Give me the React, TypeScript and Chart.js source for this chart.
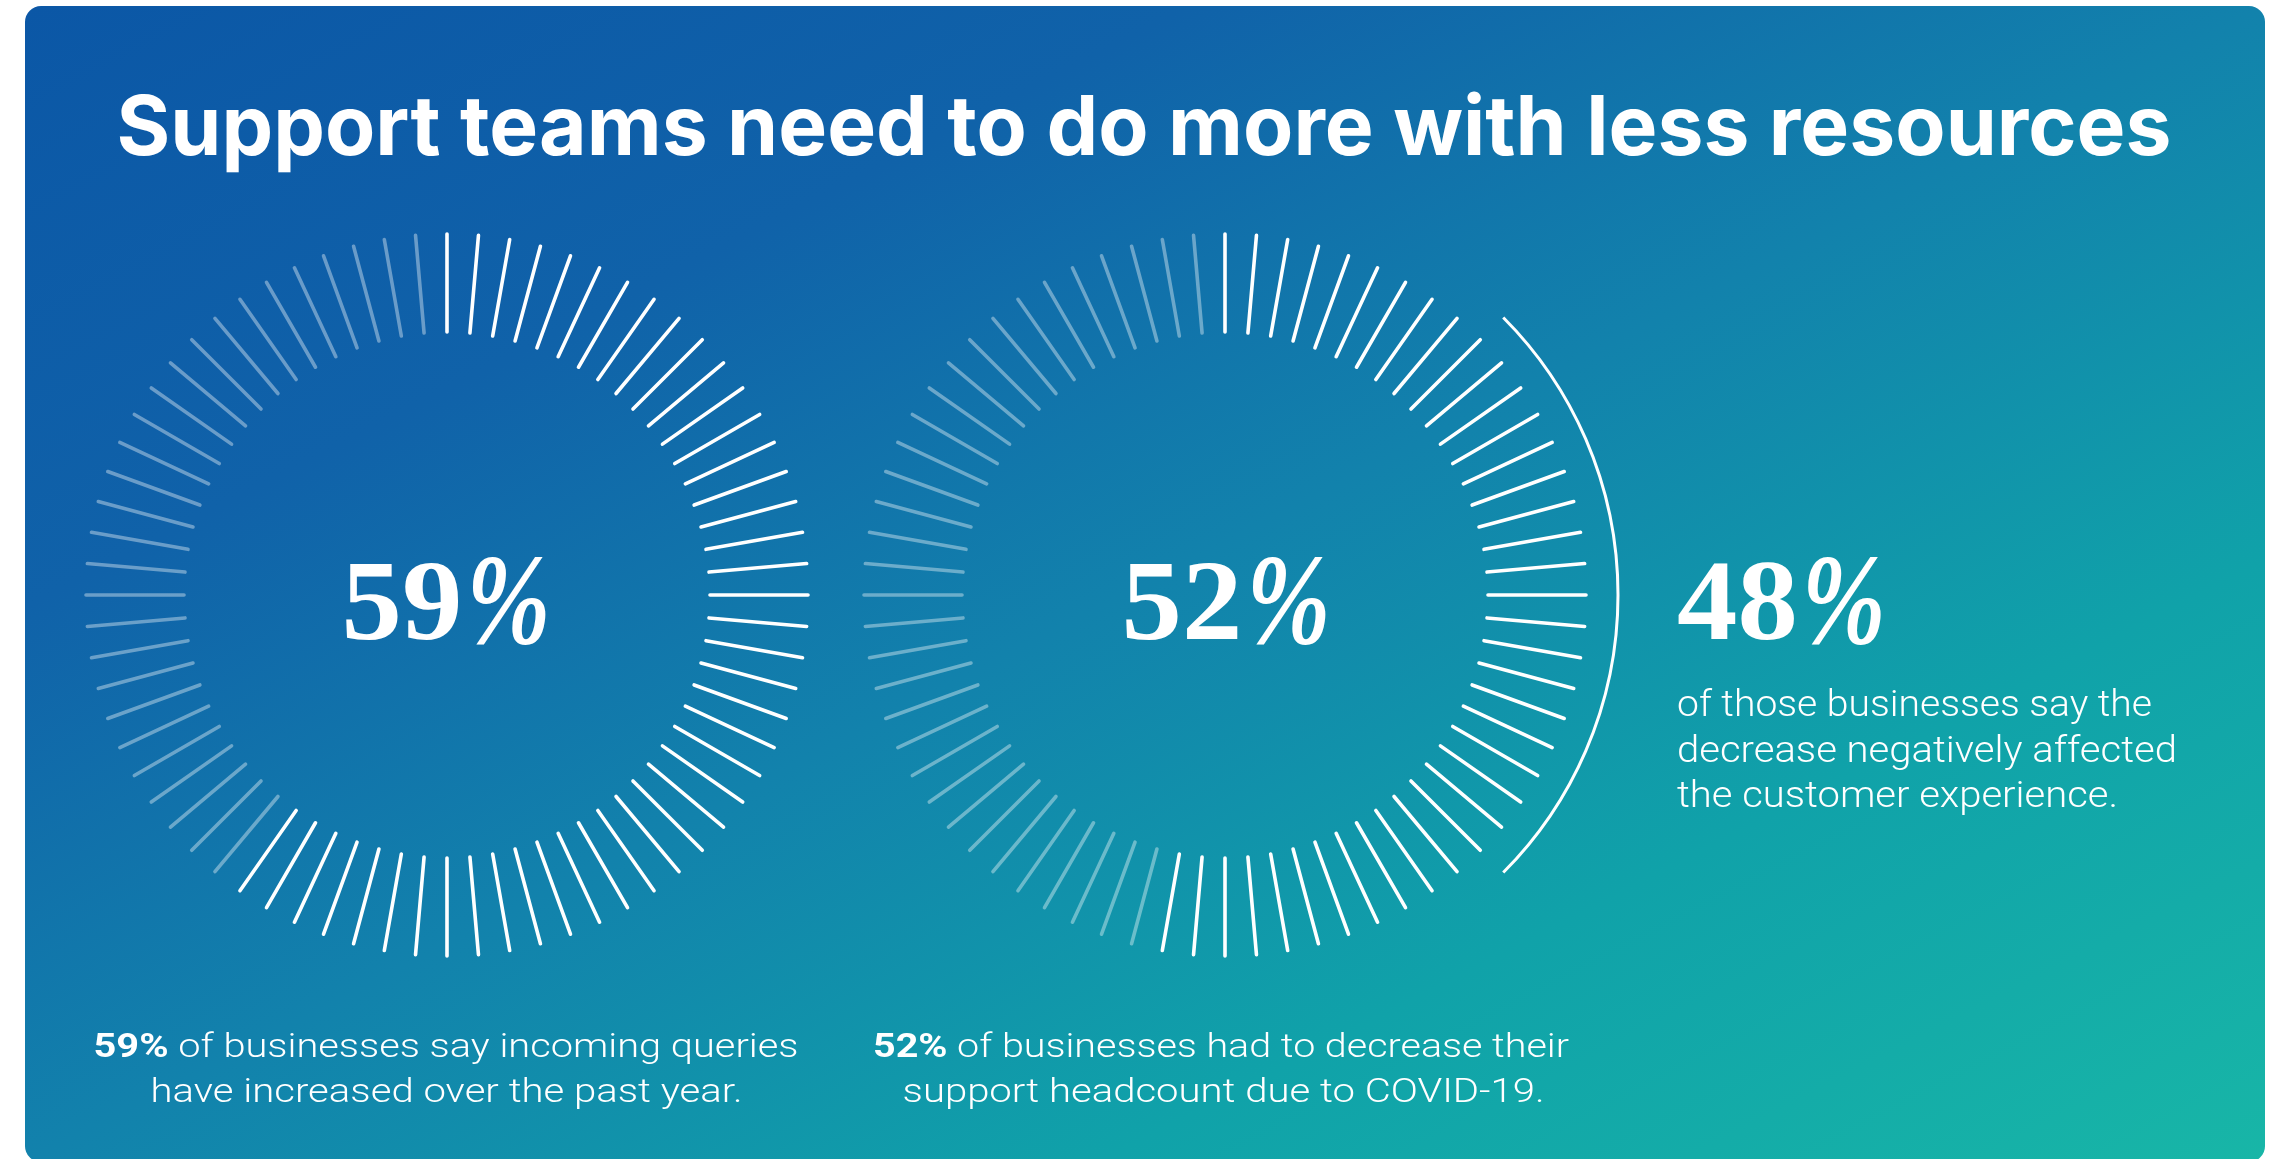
import React, { useEffect, useRef } from "react";
import { Chart, registerables } from "chart.js";

Chart.register(...registerables);

// ---------- data ----------
const TITLE = "Support teams need to do more with less resources";
const STAT_VALUES = [59, 52];
const STAT_LIT_TICKS = [44, 39]; // lit ticks
const TICK_TOTAL = 72;
const FOLLOW_UP_VALUE = 48; // % of the 52% group
const CAPTION_BOLD = ["59%", "52%"];
const CAPTION_LINE1 = [" of businesses say incoming queries", " of businesses had to decrease their"];
const CAPTION_LINE2 = ["have increased over the past year.", "support headcount due to COVID-19."];
const FOLLOW_UP_LINES = ["of those businesses say the", "decrease negatively affected", "the customer experience."];

// ---------- layout ----------
const W = 2282;
const H = 1159;
const CARD = { x: 25, y: 6, w: 2240, h: 1156, r: 16 };
const CENTERS_X = [447, 1225];
const CENTER_Y = 595;
const R_IN = 263;
const R_OUT = 361;
const ARC_R = 393;

function tickDatasets() {
  const ds: any[] = [];
  CENTERS_X.forEach((cx, c) => {
    for (let i = 0; i < TICK_TOTAL; i++) {
      const a = (i * 2 * Math.PI) / TICK_TOTAL;
      const lit = i < STAT_LIT_TICKS[c];
      ds.push({
        data: [
          { x: cx + R_IN * Math.sin(a), y: CENTER_Y - R_IN * Math.cos(a) },
          { x: cx + R_OUT * Math.sin(a), y: CENTER_Y - R_OUT * Math.cos(a) },
        ],
        showLine: true,
        borderColor: lit ? "#ffffff" : "rgba(255,255,255,0.38)",
        borderWidth: 3.6,
        borderCapStyle: "round",
        pointRadius: 0,
        pointHoverRadius: 0,
        fill: false,
        tension: 0,
      });
    }
  });
  return ds;
}

function fitText(ctx: CanvasRenderingContext2D, text: string, x: number, y: number, font: string, targetW: number, align: CanvasTextAlign) {
  ctx.font = font;
  const w = ctx.measureText(text).width;
  const sx = targetW / w;
  ctx.save();
  ctx.translate(x, y);
  ctx.scale(sx, 1);
  ctx.textAlign = align;
  ctx.textBaseline = "alphabetic";
  ctx.fillText(text, 0, 0);
  ctx.restore();
}

function mixedLine(ctx: CanvasRenderingContext2D, bold: string, rest: string, cx: number, y: number, size: number, targetW: number) {
  const bf = `700 ${size}px Roboto`;
  const lf = `300 ${size}px Roboto`;
  ctx.font = bf;
  const bw = ctx.measureText(bold).width;
  ctx.font = lf;
  const lw = ctx.measureText(rest).width;
  const sx = targetW / (bw + lw);
  ctx.save();
  ctx.translate(cx - targetW / 2, y);
  ctx.scale(sx, 1);
  ctx.textAlign = "left";
  ctx.textBaseline = "alphabetic";
  ctx.font = bf;
  ctx.fillText(bold, 0, 0);
  ctx.font = lf;
  ctx.fillText(rest, bw, 0);
  ctx.restore();
}

// big serif figure: bold digits + slim italic percent sign
function statFigure(ctx: CanvasRenderingContext2D, value: number, x: number, align: "center" | "left") {
  const digits = String(value);
  const df = "700 114px 'Liberation Serif'";
  const pf = "italic 700 130px 'Liberation Serif'";
  ctx.font = df;
  const dwRaw = ctx.measureText(digits).width;
  const dsx = 1.06;
  const dw = dwRaw * dsx;
  ctx.font = pf;
  const pw = ctx.measureText("%").width;
  const pctW = 84;
  const gap = 4;
  const total = dw + gap + pctW;
  const start = align === "center" ? x - total / 2 : x;
  ctx.textAlign = "left";
  ctx.textBaseline = "alphabetic";
  ctx.save();
  ctx.translate(start, 639);
  ctx.scale(dsx, 1);
  ctx.font = df;
  ctx.fillText(digits, 0, 0);
  ctx.restore();
  ctx.save();
  ctx.translate(start + dw + gap, 643);
  ctx.scale(pctW / pw, 1);
  ctx.font = pf;
  ctx.fillText("%", 0, 0);
  ctx.restore();
}

const backgroundPlugin = {
  id: "cardBackground",
  beforeDraw(chart: any) {
    const ctx: CanvasRenderingContext2D = chart.ctx;
    ctx.save();
    ctx.fillStyle = "#ffffff";
    ctx.fillRect(0, 0, W, H);
    const { x, y, w, h, r } = CARD;
    const cx = x + w / 2;
    const cy = y + h / 2;
    const len = Math.hypot(w, h);
    const dx = h / len;
    const dy = w / len;
    const half = (w * h) / len;
    const g = ctx.createLinearGradient(cx - dx * half, cy - dy * half, cx + dx * half, cy + dy * half);
    g.addColorStop(0, "#0b57a6");
    g.addColorStop(0.26, "#1062a9");
    g.addColorStop(0.5, "#1282ac");
    g.addColorStop(0.74, "#10a2a9");
    g.addColorStop(1, "#18b6a7");
    ctx.beginPath();
    ctx.moveTo(x + r, y);
    ctx.arcTo(x + w, y, x + w, y + h, r);
    ctx.arcTo(x + w, y + h, x, y + h, r);
    ctx.arcTo(x, y + h, x, y, r);
    ctx.arcTo(x, y, x + w, y, r);
    ctx.closePath();
    ctx.fillStyle = g;
    ctx.fill();
    ctx.restore();
  },
};

const overlayPlugin = {
  id: "overlay",
  afterDatasetsDraw(chart: any) {
    const ctx: CanvasRenderingContext2D = chart.ctx;
    const xs = chart.scales.x;
    const ys = chart.scales.y;
    // follow-up arc: share of the second circle
    const span = (FOLLOW_UP_VALUE / 100) * (STAT_VALUES[1] / 100) * 2 * Math.PI;
    const mid = Math.PI / 2; // east, measured clockwise from top
    const px = xs.getPixelForValue(CENTERS_X[1]);
    const py = ys.getPixelForValue(CENTER_Y);
    ctx.save();
    ctx.strokeStyle = "#ffffff";
    ctx.lineWidth = 3;
    ctx.beginPath();
    ctx.arc(px, py, ARC_R, mid - span / 2 - Math.PI / 2, mid + span / 2 - Math.PI / 2);
    ctx.stroke();
    ctx.restore();
  },
  afterDraw(chart: any) {
    const ctx: CanvasRenderingContext2D = chart.ctx;
    ctx.save();
    ctx.fillStyle = "#ffffff";
    // title
    fitText(ctx, TITLE, 1144, 155, "700 83px Inter", 2055, "center");
    // big numbers
    statFigure(ctx, STAT_VALUES[0], 446, "center");
    statFigure(ctx, STAT_VALUES[1], 1226, "center");
    statFigure(ctx, FOLLOW_UP_VALUE, 1677, "left");
    // follow-up caption
    const fl = "300 36px Roboto";
    const flW = [475, 500, 441];
    FOLLOW_UP_LINES.forEach((t, i) => fitText(ctx, t, 1677, 716 + i * 45.5, fl, flW[i], "left"));
    // bottom captions
    mixedLine(ctx, CAPTION_BOLD[0], CAPTION_LINE1[0], 446, 1057, 34, 705);
    fitText(ctx, CAPTION_LINE2[0], 446.5, 1102, "300 34px Roboto", 592, "center");
    mixedLine(ctx, CAPTION_BOLD[1], CAPTION_LINE1[1], 1221, 1057, 34, 696);
    fitText(ctx, CAPTION_LINE2[1], 1223.6, 1102, "300 34px Roboto", 642, "center");
    ctx.restore();
  },
};

export default function App() {
  const ref = useRef<HTMLCanvasElement | null>(null);
  useEffect(() => {
    if (!ref.current) return;
    const chart = new Chart(ref.current, {
      type: "scatter",
      data: { datasets: tickDatasets() },
      options: {
        responsive: false,
        animation: false,
        devicePixelRatio: 1,
        events: [],
        layout: { padding: 0 },
        scales: {
          x: { type: "linear", min: 0, max: W, display: false },
          y: { type: "linear", min: 0, max: H, reverse: true, display: false },
        },
        plugins: { legend: { display: false }, tooltip: { enabled: false } },
      },
      plugins: [backgroundPlugin, overlayPlugin],
    } as any);
    return () => chart.destroy();
  }, []);
  return (
    <div style={{ position: "absolute", left: 0, top: 0, width: W, height: H }}>
      <canvas ref={ref} width={W} height={H} style={{ display: "block", width: W, height: H }} />
    </div>
  );
}
